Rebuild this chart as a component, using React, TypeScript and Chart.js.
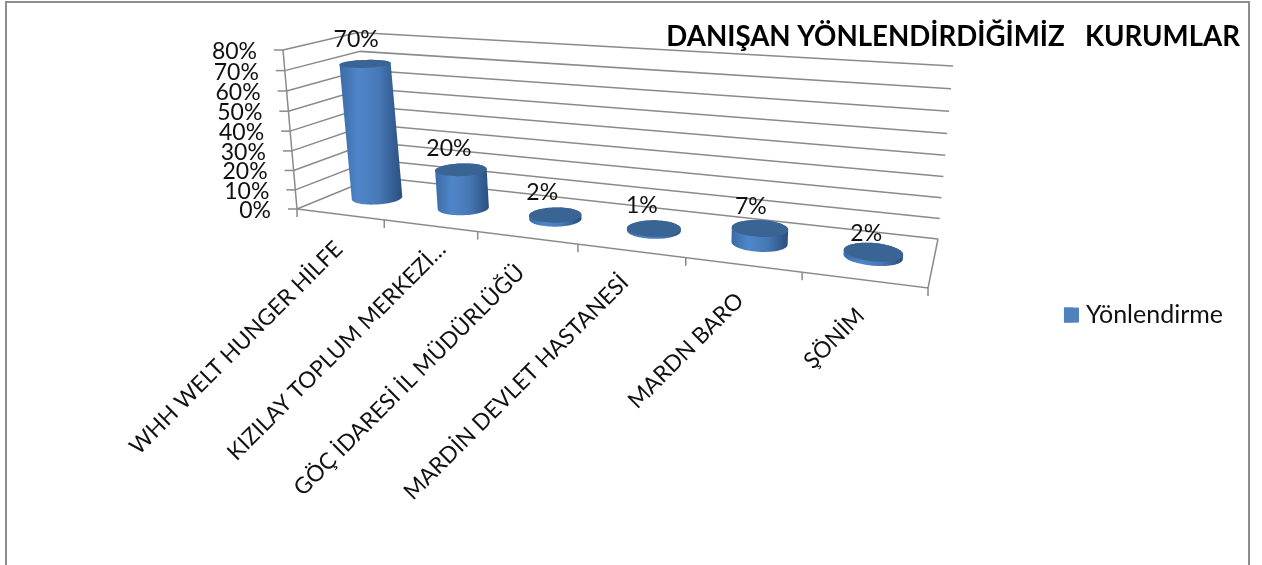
import React, { useEffect, useRef } from "react";
import { Chart, BarController, registerables } from "chart.js";

const categories = [
  "WHH WELT HUNGER HİLFE",
  "KIZILAY TOPLUM MERKEZİ…",
  "GÖÇ İDARESİ İL MÜDÜRLÜĞÜ",
  "MARDİN DEVLET HASTANESİ",
  "MARDN BARO",
  "ŞÖNİM",
];
const yonlendirme = [70, 20, 2, 1, 7, 2];
const seriesName = "Yönlendirme";
const titleText = "DANIŞAN YÖNLENDİRDİĞİMİZ   KURUMLAR";

const FONT = "Lato, Carlito, Calibri, sans-serif";
const LINE = "#8a8a8a";
const TEXT = "#111111";

type Pt = [number, number];
// Perspective box: bottom-left, bottom-right, top-right, top-left of the front and the back plane
const FRONT: Pt[] = [[297, 209], [928, 288], [944, 92], [283, 50]];
const BACK: Pt[] = [[375, 177], [938, 239], [953, 66], [358, 32.5]];
const CYL_DEPTH = 0.5;
const CYL_DEPTH_RADIUS = 0.19;
const LABEL_NUDGE: Pt[] = [[-1, 31], [12, 20], [-6, 31], [-6, 28], [-3, 32], [-3, 32]];
const VALUE_LABEL_NUDGE: Pt[] = [[-9, -24], [-12, -21], [-13, -22], [-12, -23], [-9, -22], [-7, -19]];

function squareToQuad(q: Pt[]) {
  const [[x0, y0], [x1, y1], [x2, y2], [x3, y3]] = q;
  const dx1 = x1 - x2, dx2 = x3 - x2, sx = x0 - x1 + x2 - x3;
  const dy1 = y1 - y2, dy2 = y3 - y2, sy = y0 - y1 + y2 - y3;
  const det = dx1 * dy2 - dx2 * dy1;
  const g = (sx * dy2 - dx2 * sy) / det;
  const h = (dx1 * sy - sx * dy1) / det;
  const a = x1 - x0 + g * x1, b = x3 - x0 + h * x3, c = x0;
  const d = y1 - y0 + g * y1, e = y3 - y0 + h * y3, f = y0;
  return (u: number, v: number): Pt => {
    const w = g * u + h * v + 1;
    return [(a * u + b * v + c) / w, (d * u + e * v + f) / w];
  };
}
const hFront = squareToQuad(FRONT);
const hBack = squareToQuad(BACK);
function project(u: number, v: number, d: number): Pt {
  const a = hFront(u, v), b = hBack(u, v);
  return [a[0] + (b[0] - a[0]) * d, a[1] + (b[1] - a[1]) * d];
}

function hull(points: Pt[]): Pt[] {
  const p = [...points].sort((a, b) => a[0] - b[0] || a[1] - b[1]);
  const cross = (o: Pt, a: Pt, b: Pt) => (a[0] - o[0]) * (b[1] - o[1]) - (a[1] - o[1]) * (b[0] - o[0]);
  const lo: Pt[] = [], up: Pt[] = [];
  for (const q of p) {
    while (lo.length > 1 && cross(lo[lo.length - 2], lo[lo.length - 1], q) <= 0) lo.pop();
    lo.push(q);
  }
  for (const q of p.slice().reverse()) {
    while (up.length > 1 && cross(up[up.length - 2], up[up.length - 1], q) <= 0) up.pop();
    up.push(q);
  }
  return lo.slice(0, -1).concat(up.slice(0, -1));
}
function poly(ctx: CanvasRenderingContext2D, pts: Pt[]) {
  ctx.beginPath();
  pts.forEach((p, i) => (i ? ctx.lineTo(p[0], p[1]) : ctx.moveTo(p[0], p[1])));
  ctx.closePath();
}

class CylinderController extends BarController {
  static id = "cylinder3d";
  static defaults = BarController.defaults;
  static overrides = BarController.overrides;
  draw() {
    const chart = this.chart as any;
    const ctx: CanvasRenderingContext2D = chart.ctx;
    const area = chart.chartArea;
    const meta = this.getMeta();
    const values = this.getDataset().data as number[];
    meta.data.forEach((el: any, i: number) => {
      const u = (el.x - area.left) / area.width;
      const ur = el.width / 2 / area.width;
      const vTop = (area.bottom - el.y) / area.height;
      const ring = (v: number) => {
        const pts: Pt[] = [];
        for (let k = 0; k < 72; k++) {
          const t = (k / 72) * Math.PI * 2;
          pts.push(project(u + ur * Math.cos(t), v, CYL_DEPTH + CYL_DEPTH_RADIUS * Math.sin(t)));
        }
        return pts;
      };
      const base = ring(0), top = ring(vTop);
      const body = hull(base.concat(top));
      const xs = body.map((p) => p[0]);
      const g = ctx.createLinearGradient(Math.min(...xs), 0, Math.max(...xs), 0);
      g.addColorStop(0, "#3b6ba6");
      g.addColorStop(0.3, "#4f86c9");
      g.addColorStop(0.62, "#4779b7");
      g.addColorStop(1, "#2a4f7e");
      poly(ctx, body);
      ctx.fillStyle = g;
      ctx.fill();
      poly(ctx, top);
      ctx.fillStyle = "#3a6494";
      ctx.fill();

      const c = project(u, vTop, CYL_DEPTH);
      ctx.font = `23px ${FONT}`;
      ctx.fillStyle = TEXT;
      ctx.textAlign = "center";
      ctx.textBaseline = "middle";
      ctx.fillText(`${values[i]}%`, c[0] + VALUE_LABEL_NUDGE[i][0], c[1] + VALUE_LABEL_NUDGE[i][1]);
    });
  }
}

Chart.register(...registerables, CylinderController as any);

const framePlugin = {
  id: "frame3d",
  afterLayout(chart: any) {
    // the title runs further right than the legend column
    if (chart.titleBlock) chart.titleBlock.right += 7;
  },
  beforeDraw(chart: any) {
    const { ctx, width, height } = chart;
    ctx.save();
    ctx.fillStyle = "#ffffff";
    ctx.fillRect(0, 0, width, height);
    ctx.strokeStyle = "#8c8c8c";
    ctx.lineWidth = 2;
    ctx.beginPath();
    ctx.moveTo(6, height + 2);
    ctx.lineTo(6, 2);
    ctx.lineTo(1249, 2);
    ctx.lineTo(1249, height + 2);
    ctx.stroke();
    ctx.restore();
  },
  beforeDatasetsDraw(chart: any) {
    const { ctx, chartArea: area } = chart;
    const xs = chart.scales.x, ys = chart.scales.y;
    ctx.save();
    ctx.strokeStyle = LINE;
    ctx.lineWidth = 1.5;
    const path = (pts: Pt[]) => {
      ctx.beginPath();
      pts.forEach((p, i) => (i ? ctx.lineTo(p[0], p[1]) : ctx.moveTo(p[0], p[1])));
      ctx.stroke();
    };
    // walls + value ticks + value labels
    ctx.font = `23px ${FONT}`;
    ctx.fillStyle = TEXT;
    ctx.textAlign = "right";
    ctx.textBaseline = "middle";
    ys.ticks.forEach((t: any) => {
      const v = (area.bottom - ys.getPixelForValue(t.value)) / area.height;
      const a = project(0, v, 0);
      path([a, project(0, v, 1), project(1, v, 1)]);
      path([[a[0] - 9, a[1]], a]);
      ctx.fillText(`${t.value}%`, a[0] - 26, a[1] + 1.5);
    });
    path([project(0, 0, 0), project(0, 1, 0)]);
    path([project(0, 0, 0), project(1, 0, 0), project(1, 0, 1)]);
    // category ticks and rotated labels
    const step = area.width / categories.length;
    ctx.font = `22.6px ${FONT}`;
    ctx.textAlign = "right";
    for (let i = 0; i <= categories.length; i++) {
      const left = xs.getPixelForValue(0) - step / 2 + i * step;
      const p = project((left - area.left) / area.width, 0, 0);
      path([p, [p[0], p[1] + 8]]);
    }
    xs.ticks.forEach((t: any, i: number) => {
      const u = (xs.getPixelForValue(t.value) - area.left) / area.width;
      const p = project(u, 0, 0);
      ctx.save();
      ctx.translate(p[0] + LABEL_NUDGE[i][0], p[1] + LABEL_NUDGE[i][1]);
      ctx.rotate((-45 * Math.PI) / 180);
      ctx.fillText(xs.getLabelForValue(t.value), 0, 0);
      ctx.restore();
    });
    ctx.restore();
  },
  afterDraw(chart: any) {
    // legend swatch is wider than the native gap to its text allows
    const hit = chart.legend?.legendHitBoxes?.[0];
    if (!hit) return;
    const { ctx } = chart;
    ctx.save();
    ctx.fillStyle = chart.data.datasets[0].backgroundColor;
    ctx.fillRect(hit.left, hit.top + hit.height / 2 - 7.5, 15, 15);
    ctx.restore();
  },
};

export default function App() {
  const ref = useRef<HTMLCanvasElement>(null);
  useEffect(() => {
    const chart = new Chart(ref.current!, {
      type: "cylinder3d" as any,
      data: {
        labels: categories,
        datasets: [
          {
            label: seriesName,
            data: yonlendirme,
            backgroundColor: "#4f81bd",
            barPercentage: 0.5,
            categoryPercentage: 1,
            clip: false,
          } as any,
        ],
      },
      options: {
        responsive: false,
        animation: false,
        devicePixelRatio: 1,
        layout: { padding: { right: 29, left: 0, top: 0, bottom: 0 } },
        scales: {
          x: { type: "category", display: false, offset: true, ticks: { autoSkip: false } },
          y: { type: "linear", display: false, min: 0, max: 80, ticks: { stepSize: 10 } },
        },
        plugins: {
          title: {
            display: true,
            text: titleText,
            align: "end",
            color: "#000000",
            font: { family: FONT, size: 27.65, weight: "bold" },
            padding: { top: 21, bottom: 11 },
          },
          legend: {
            display: true,
            position: "right",
            align: "center",
            fullSize: false,
            labels: {
              color: TEXT,
              font: { family: FONT, size: 25 },
              boxWidth: 9.5,
              boxHeight: 15,
              padding: 25,
            },
          },
          tooltip: { enabled: false },
        },
      } as any,
      plugins: [framePlugin as any],
    });
    return () => chart.destroy();
  }, []);
  return (
    <div style={{ position: "absolute", left: 0, top: 0, width: 1262, height: 565, overflow: "hidden" }}>
      <canvas ref={ref} width={1262} height={565} style={{ display: "block" }} />
    </div>
  );
}
